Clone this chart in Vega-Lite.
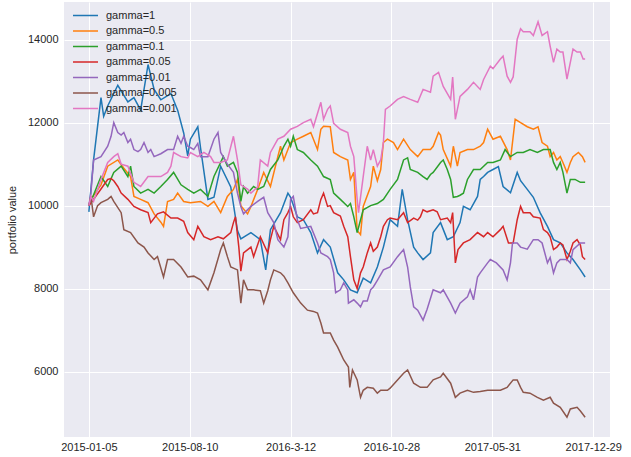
{
"$schema":"https://vega.github.io/schema/vega-lite/v6.json",
"width":546,"height":435,
"autosize":{"type":"none"},
"padding":{"left":64,"top":2,"right":21,"bottom":20},
"background":"white",
"config":{"font":"Liberation Sans","view":{"fill":"#EAEAF2","stroke":null},
"axis":{"domain":false,"ticks":false,"gridColor":"white","gridWidth":1,"labelColor":"#262626","labelFontSize":11,"titleColor":"#262626","titleFontWeight":"normal","titleFontSize":11}},
"data":{"values":[
{"series":"gamma=1","t":0,"value":9850},{"series":"gamma=1","t":7,"value":11100},{"series":"gamma=1","t":18,"value":12600},{"series":"gamma=1","t":22,"value":12150},{"series":"gamma=1","t":28,"value":12400},{"series":"gamma=1","t":43,"value":12900},{"series":"gamma=1","t":58,"value":12500},{"series":"gamma=1","t":67,"value":12600},{"series":"gamma=1","t":77,"value":12300},{"series":"gamma=1","t":88,"value":13400},{"series":"gamma=1","t":97,"value":12800},{"series":"gamma=1","t":107,"value":12550},{"series":"gamma=1","t":122,"value":12700},{"series":"gamma=1","t":132,"value":12300},{"series":"gamma=1","t":141,"value":11750},{"series":"gamma=1","t":147,"value":11200},{"series":"gamma=1","t":151,"value":11600},{"series":"gamma=1","t":162,"value":11900},{"series":"gamma=1","t":166,"value":11400},{"series":"gamma=1","t":177,"value":10150},{"series":"gamma=1","t":186,"value":10200},{"series":"gamma=1","t":196,"value":10950},{"series":"gamma=1","t":211,"value":10450},{"series":"gamma=1","t":221,"value":9400},{"series":"gamma=1","t":226,"value":9200},{"series":"gamma=1","t":241,"value":9350},{"series":"gamma=1","t":255,"value":9180},{"series":"gamma=1","t":263,"value":8450},{"series":"gamma=1","t":270,"value":9420},{"series":"gamma=1","t":285,"value":9830},{"series":"gamma=1","t":296,"value":10300},{"series":"gamma=1","t":300,"value":10200},{"series":"gamma=1","t":310,"value":9730},{"series":"gamma=1","t":319,"value":9660},{"series":"gamma=1","t":330,"value":9350},{"series":"gamma=1","t":340,"value":8860},{"series":"gamma=1","t":349,"value":9180},{"series":"gamma=1","t":359,"value":9000},{"series":"gamma=1","t":370,"value":8380},{"series":"gamma=1","t":379,"value":8210},{"series":"gamma=1","t":389,"value":7970},{"series":"gamma=1","t":399,"value":7900},{"series":"gamma=1","t":408,"value":8250},{"series":"gamma=1","t":419,"value":8140},{"series":"gamma=1","t":429,"value":8520},{"series":"gamma=1","t":438,"value":9000},{"series":"gamma=1","t":448,"value":9660},{"series":"gamma=1","t":459,"value":9500},{"series":"gamma=1","t":466,"value":10390},{"series":"gamma=1","t":474,"value":9660},{"series":"gamma=1","t":483,"value":9000},{"series":"gamma=1","t":489,"value":8860},{"series":"gamma=1","t":497,"value":8700},{"series":"gamma=1","t":508,"value":8860},{"series":"gamma=1","t":512,"value":9350},{"series":"gamma=1","t":523,"value":9590},{"series":"gamma=1","t":533,"value":9180},{"series":"gamma=1","t":542,"value":9250},{"series":"gamma=1","t":552,"value":9590},{"series":"gamma=1","t":557,"value":9980},{"series":"gamma=1","t":567,"value":9900},{"series":"gamma=1","t":578,"value":10220},{"series":"gamma=1","t":582,"value":10630},{"series":"gamma=1","t":587,"value":10700},{"series":"gamma=1","t":593,"value":10800},{"series":"gamma=1","t":601,"value":10870},{"series":"gamma=1","t":609,"value":10940},{"series":"gamma=1","t":616,"value":10460},{"series":"gamma=1","t":627,"value":10310},{"series":"gamma=1","t":637,"value":10800},{"series":"gamma=1","t":642,"value":10600},{"series":"gamma=1","t":652,"value":10390},{"series":"gamma=1","t":661,"value":10200},{"series":"gamma=1","t":671,"value":9830},{"series":"gamma=1","t":682,"value":9500},{"series":"gamma=1","t":691,"value":9180},{"series":"gamma=1","t":701,"value":9100},{"series":"gamma=1","t":711,"value":8860},{"series":"gamma=1","t":720,"value":8700},{"series":"gamma=1","t":731,"value":8450},{"series":"gamma=1","t":738,"value":8280},
{"series":"gamma=0.5","t":0,"value":10000},{"series":"gamma=0.5","t":3,"value":10150},{"series":"gamma=0.5","t":18,"value":10500},{"series":"gamma=0.5","t":28,"value":10950},{"series":"gamma=0.5","t":43,"value":11100},{"series":"gamma=0.5","t":52,"value":10900},{"series":"gamma=0.5","t":62,"value":10700},{"series":"gamma=0.5","t":67,"value":10220},{"series":"gamma=0.5","t":77,"value":10150},{"series":"gamma=0.5","t":88,"value":10070},{"series":"gamma=0.5","t":97,"value":9800},{"series":"gamma=0.5","t":107,"value":9600},{"series":"gamma=0.5","t":111,"value":9500},{"series":"gamma=0.5","t":117,"value":10100},{"series":"gamma=0.5","t":126,"value":10150},{"series":"gamma=0.5","t":132,"value":10300},{"series":"gamma=0.5","t":141,"value":10100},{"series":"gamma=0.5","t":151,"value":10070},{"series":"gamma=0.5","t":166,"value":10100},{"series":"gamma=0.5","t":177,"value":9980},{"series":"gamma=0.5","t":186,"value":10100},{"series":"gamma=0.5","t":196,"value":9830},{"series":"gamma=0.5","t":206,"value":10220},{"series":"gamma=0.5","t":215,"value":10390},{"series":"gamma=0.5","t":221,"value":10630},{"series":"gamma=0.5","t":226,"value":10000},{"series":"gamma=0.5","t":236,"value":9800},{"series":"gamma=0.5","t":241,"value":9980},{"series":"gamma=0.5","t":251,"value":10390},{"series":"gamma=0.5","t":260,"value":10800},{"series":"gamma=0.5","t":270,"value":10460},{"series":"gamma=0.5","t":281,"value":11180},{"series":"gamma=0.5","t":285,"value":11430},{"series":"gamma=0.5","t":290,"value":11100},{"series":"gamma=0.5","t":300,"value":11520},{"series":"gamma=0.5","t":310,"value":11600},{"series":"gamma=0.5","t":319,"value":11670},{"series":"gamma=0.5","t":330,"value":11760},{"series":"gamma=0.5","t":340,"value":11350},{"series":"gamma=0.5","t":345,"value":11840},{"series":"gamma=0.5","t":349,"value":11910},{"series":"gamma=0.5","t":359,"value":11900},{"series":"gamma=0.5","t":364,"value":11280},{"series":"gamma=0.5","t":374,"value":11180},{"series":"gamma=0.5","t":385,"value":11100},{"series":"gamma=0.5","t":389,"value":10630},{"series":"gamma=0.5","t":394,"value":10800},{"series":"gamma=0.5","t":399,"value":9400},{"series":"gamma=0.5","t":404,"value":9300},{"series":"gamma=0.5","t":408,"value":9980},{"series":"gamma=0.5","t":419,"value":10460},{"series":"gamma=0.5","t":423,"value":10950},{"series":"gamma=0.5","t":429,"value":10600},{"series":"gamma=0.5","t":434,"value":10870},{"series":"gamma=0.5","t":438,"value":11520},{"series":"gamma=0.5","t":444,"value":11600},{"series":"gamma=0.5","t":453,"value":11520},{"series":"gamma=0.5","t":459,"value":11350},{"series":"gamma=0.5","t":468,"value":11600},{"series":"gamma=0.5","t":478,"value":11350},{"series":"gamma=0.5","t":489,"value":11180},{"series":"gamma=0.5","t":497,"value":11350},{"series":"gamma=0.5","t":508,"value":11350},{"series":"gamma=0.5","t":512,"value":11430},{"series":"gamma=0.5","t":520,"value":11760},{"series":"gamma=0.5","t":523,"value":11700},{"series":"gamma=0.5","t":527,"value":11350},{"series":"gamma=0.5","t":538,"value":10950},{"series":"gamma=0.5","t":542,"value":11430},{"series":"gamma=0.5","t":548,"value":10950},{"series":"gamma=0.5","t":552,"value":11280},{"series":"gamma=0.5","t":563,"value":11350},{"series":"gamma=0.5","t":572,"value":11350},{"series":"gamma=0.5","t":582,"value":11430},{"series":"gamma=0.5","t":587,"value":11520},{"series":"gamma=0.5","t":593,"value":11840},{"series":"gamma=0.5","t":601,"value":11600},{"series":"gamma=0.5","t":612,"value":11670},{"series":"gamma=0.5","t":622,"value":11350},{"series":"gamma=0.5","t":627,"value":11100},{"series":"gamma=0.5","t":634,"value":12080},{"series":"gamma=0.5","t":642,"value":12000},{"series":"gamma=0.5","t":652,"value":11900},{"series":"gamma=0.5","t":661,"value":11840},{"series":"gamma=0.5","t":668,"value":11900},{"series":"gamma=0.5","t":674,"value":11520},{"series":"gamma=0.5","t":682,"value":11430},{"series":"gamma=0.5","t":686,"value":11180},{"series":"gamma=0.5","t":691,"value":11280},{"series":"gamma=0.5","t":696,"value":11100},{"series":"gamma=0.5","t":701,"value":11180},{"series":"gamma=0.5","t":705,"value":11040},{"series":"gamma=0.5","t":711,"value":10800},{"series":"gamma=0.5","t":716,"value":11040},{"series":"gamma=0.5","t":720,"value":11180},{"series":"gamma=0.5","t":728,"value":11280},{"series":"gamma=0.5","t":734,"value":11180},{"series":"gamma=0.5","t":738,"value":11040},
{"series":"gamma=0.1","t":0,"value":10000},{"series":"gamma=0.1","t":3,"value":10100},{"series":"gamma=0.1","t":18,"value":10700},{"series":"gamma=0.1","t":28,"value":10460},{"series":"gamma=0.1","t":37,"value":10800},{"series":"gamma=0.1","t":48,"value":10950},{"series":"gamma=0.1","t":58,"value":10700},{"series":"gamma=0.1","t":62,"value":10950},{"series":"gamma=0.1","t":67,"value":10460},{"series":"gamma=0.1","t":77,"value":10300},{"series":"gamma=0.1","t":88,"value":10390},{"series":"gamma=0.1","t":97,"value":10300},{"series":"gamma=0.1","t":107,"value":10460},{"series":"gamma=0.1","t":117,"value":10630},{"series":"gamma=0.1","t":126,"value":10800},{"series":"gamma=0.1","t":137,"value":10500},{"series":"gamma=0.1","t":147,"value":10390},{"series":"gamma=0.1","t":156,"value":10300},{"series":"gamma=0.1","t":166,"value":10390},{"series":"gamma=0.1","t":177,"value":10220},{"series":"gamma=0.1","t":186,"value":10700},{"series":"gamma=0.1","t":196,"value":11040},{"series":"gamma=0.1","t":200,"value":11180},{"series":"gamma=0.1","t":206,"value":10950},{"series":"gamma=0.1","t":215,"value":11040},{"series":"gamma=0.1","t":221,"value":10800},{"series":"gamma=0.1","t":226,"value":10100},{"series":"gamma=0.1","t":230,"value":10460},{"series":"gamma=0.1","t":236,"value":10300},{"series":"gamma=0.1","t":245,"value":10460},{"series":"gamma=0.1","t":251,"value":10390},{"series":"gamma=0.1","t":260,"value":10460},{"series":"gamma=0.1","t":270,"value":10870},{"series":"gamma=0.1","t":281,"value":11100},{"series":"gamma=0.1","t":290,"value":11430},{"series":"gamma=0.1","t":296,"value":11600},{"series":"gamma=0.1","t":300,"value":11430},{"series":"gamma=0.1","t":304,"value":11670},{"series":"gamma=0.1","t":310,"value":11350},{"series":"gamma=0.1","t":319,"value":11280},{"series":"gamma=0.1","t":330,"value":11100},{"series":"gamma=0.1","t":340,"value":10950},{"series":"gamma=0.1","t":349,"value":10700},{"series":"gamma=0.1","t":359,"value":10630},{"series":"gamma=0.1","t":364,"value":10300},{"series":"gamma=0.1","t":374,"value":10150},{"series":"gamma=0.1","t":385,"value":9980},{"series":"gamma=0.1","t":389,"value":10050},{"series":"gamma=0.1","t":394,"value":9730},{"series":"gamma=0.1","t":399,"value":9350},{"series":"gamma=0.1","t":408,"value":9900},{"series":"gamma=0.1","t":419,"value":10000},{"series":"gamma=0.1","t":429,"value":10050},{"series":"gamma=0.1","t":438,"value":10150},{"series":"gamma=0.1","t":448,"value":10390},{"series":"gamma=0.1","t":459,"value":10630},{"series":"gamma=0.1","t":468,"value":11100},{"series":"gamma=0.1","t":474,"value":11150},{"series":"gamma=0.1","t":478,"value":10870},{"series":"gamma=0.1","t":489,"value":10800},{"series":"gamma=0.1","t":497,"value":10700},{"series":"gamma=0.1","t":503,"value":10630},{"series":"gamma=0.1","t":508,"value":10750},{"series":"gamma=0.1","t":512,"value":10800},{"series":"gamma=0.1","t":523,"value":11040},{"series":"gamma=0.1","t":527,"value":11100},{"series":"gamma=0.1","t":533,"value":10870},{"series":"gamma=0.1","t":538,"value":10630},{"series":"gamma=0.1","t":542,"value":10200},{"series":"gamma=0.1","t":548,"value":10220},{"series":"gamma=0.1","t":552,"value":10250},{"series":"gamma=0.1","t":557,"value":10300},{"series":"gamma=0.1","t":563,"value":10630},{"series":"gamma=0.1","t":572,"value":10870},{"series":"gamma=0.1","t":582,"value":10870},{"series":"gamma=0.1","t":593,"value":11040},{"series":"gamma=0.1","t":601,"value":11040},{"series":"gamma=0.1","t":612,"value":11100},{"series":"gamma=0.1","t":619,"value":11350},{"series":"gamma=0.1","t":627,"value":11180},{"series":"gamma=0.1","t":637,"value":11280},{"series":"gamma=0.1","t":646,"value":11280},{"series":"gamma=0.1","t":656,"value":11350},{"series":"gamma=0.1","t":667,"value":11280},{"series":"gamma=0.1","t":676,"value":11350},{"series":"gamma=0.1","t":686,"value":11350},{"series":"gamma=0.1","t":691,"value":11040},{"series":"gamma=0.1","t":696,"value":10870},{"series":"gamma=0.1","t":701,"value":11040},{"series":"gamma=0.1","t":705,"value":10800},{"series":"gamma=0.1","t":711,"value":10300},{"series":"gamma=0.1","t":716,"value":10630},{"series":"gamma=0.1","t":723,"value":10630},{"series":"gamma=0.1","t":731,"value":10560},{"series":"gamma=0.1","t":738,"value":10560},
{"series":"gamma=0.05","t":0,"value":10000},{"series":"gamma=0.05","t":7,"value":10150},{"series":"gamma=0.05","t":18,"value":10400},{"series":"gamma=0.05","t":28,"value":10630},{"series":"gamma=0.05","t":33,"value":10650},{"series":"gamma=0.05","t":37,"value":10600},{"series":"gamma=0.05","t":43,"value":10460},{"series":"gamma=0.05","t":48,"value":10300},{"series":"gamma=0.05","t":58,"value":10150},{"series":"gamma=0.05","t":67,"value":9980},{"series":"gamma=0.05","t":77,"value":9900},{"series":"gamma=0.05","t":88,"value":9830},{"series":"gamma=0.05","t":92,"value":9590},{"series":"gamma=0.05","t":102,"value":9800},{"series":"gamma=0.05","t":111,"value":9850},{"series":"gamma=0.05","t":122,"value":9700},{"series":"gamma=0.05","t":132,"value":9700},{"series":"gamma=0.05","t":141,"value":9620},{"series":"gamma=0.05","t":147,"value":9350},{"series":"gamma=0.05","t":156,"value":9180},{"series":"gamma=0.05","t":162,"value":9500},{"series":"gamma=0.05","t":171,"value":9250},{"series":"gamma=0.05","t":181,"value":9180},{"series":"gamma=0.05","t":192,"value":9250},{"series":"gamma=0.05","t":200,"value":9200},{"series":"gamma=0.05","t":211,"value":9350},{"series":"gamma=0.05","t":215,"value":9590},{"series":"gamma=0.05","t":218,"value":9730},{"series":"gamma=0.05","t":223,"value":9000},{"series":"gamma=0.05","t":226,"value":8420},{"series":"gamma=0.05","t":230,"value":8860},{"series":"gamma=0.05","t":241,"value":9000},{"series":"gamma=0.05","t":245,"value":8770},{"series":"gamma=0.05","t":255,"value":9250},{"series":"gamma=0.05","t":266,"value":8860},{"series":"gamma=0.05","t":270,"value":9180},{"series":"gamma=0.05","t":275,"value":9500},{"series":"gamma=0.05","t":285,"value":9180},{"series":"gamma=0.05","t":290,"value":9660},{"series":"gamma=0.05","t":296,"value":9830},{"series":"gamma=0.05","t":300,"value":9980},{"series":"gamma=0.05","t":304,"value":9730},{"series":"gamma=0.05","t":310,"value":9590},{"series":"gamma=0.05","t":319,"value":9660},{"series":"gamma=0.05","t":330,"value":9900},{"series":"gamma=0.05","t":334,"value":9800},{"series":"gamma=0.05","t":340,"value":9830},{"series":"gamma=0.05","t":345,"value":10150},{"series":"gamma=0.05","t":349,"value":10300},{"series":"gamma=0.05","t":355,"value":9980},{"series":"gamma=0.05","t":359,"value":10000},{"series":"gamma=0.05","t":364,"value":9830},{"series":"gamma=0.05","t":374,"value":9750},{"series":"gamma=0.05","t":379,"value":9500},{"series":"gamma=0.05","t":385,"value":9250},{"series":"gamma=0.05","t":389,"value":8770},{"series":"gamma=0.05","t":394,"value":8210},{"series":"gamma=0.05","t":399,"value":8000},{"series":"gamma=0.05","t":404,"value":8380},{"series":"gamma=0.05","t":408,"value":8520},{"series":"gamma=0.05","t":414,"value":8860},{"series":"gamma=0.05","t":419,"value":9100},{"series":"gamma=0.05","t":423,"value":8900},{"series":"gamma=0.05","t":429,"value":9000},{"series":"gamma=0.05","t":434,"value":9250},{"series":"gamma=0.05","t":438,"value":9500},{"series":"gamma=0.05","t":444,"value":9660},{"series":"gamma=0.05","t":448,"value":9700},{"series":"gamma=0.05","t":459,"value":9660},{"series":"gamma=0.05","t":468,"value":9830},{"series":"gamma=0.05","t":474,"value":9590},{"series":"gamma=0.05","t":483,"value":9700},{"series":"gamma=0.05","t":489,"value":9650},{"series":"gamma=0.05","t":493,"value":9730},{"series":"gamma=0.05","t":497,"value":9900},{"series":"gamma=0.05","t":503,"value":9850},{"series":"gamma=0.05","t":512,"value":9900},{"series":"gamma=0.05","t":518,"value":9850},{"series":"gamma=0.05","t":523,"value":9660},{"series":"gamma=0.05","t":533,"value":9700},{"series":"gamma=0.05","t":538,"value":9590},{"series":"gamma=0.05","t":541,"value":9830},{"series":"gamma=0.05","t":545,"value":8620},{"series":"gamma=0.05","t":549,"value":8940},{"series":"gamma=0.05","t":557,"value":9100},{"series":"gamma=0.05","t":567,"value":9180},{"series":"gamma=0.05","t":578,"value":9350},{"series":"gamma=0.05","t":587,"value":9250},{"series":"gamma=0.05","t":593,"value":9350},{"series":"gamma=0.05","t":601,"value":9250},{"series":"gamma=0.05","t":612,"value":9420},{"series":"gamma=0.05","t":616,"value":9500},{"series":"gamma=0.05","t":624,"value":9100},{"series":"gamma=0.05","t":631,"value":9100},{"series":"gamma=0.05","t":637,"value":9660},{"series":"gamma=0.05","t":642,"value":9980},{"series":"gamma=0.05","t":646,"value":9830},{"series":"gamma=0.05","t":656,"value":9830},{"series":"gamma=0.05","t":661,"value":9730},{"series":"gamma=0.05","t":671,"value":9700},{"series":"gamma=0.05","t":676,"value":9420},{"series":"gamma=0.05","t":682,"value":9350},{"series":"gamma=0.05","t":686,"value":9250},{"series":"gamma=0.05","t":691,"value":8940},{"series":"gamma=0.05","t":696,"value":9000},{"series":"gamma=0.05","t":701,"value":9100},{"series":"gamma=0.05","t":705,"value":9050},{"series":"gamma=0.05","t":711,"value":8700},{"series":"gamma=0.05","t":716,"value":8900},{"series":"gamma=0.05","t":720,"value":9100},{"series":"gamma=0.05","t":726,"value":9180},{"series":"gamma=0.05","t":731,"value":9050},{"series":"gamma=0.05","t":734,"value":8770},{"series":"gamma=0.05","t":738,"value":8700},
{"series":"gamma=0.01","t":0,"value":10000},{"series":"gamma=0.01","t":3,"value":10300},{"series":"gamma=0.01","t":7,"value":11100},{"series":"gamma=0.01","t":18,"value":11180},{"series":"gamma=0.01","t":28,"value":11430},{"series":"gamma=0.01","t":33,"value":11670},{"series":"gamma=0.01","t":37,"value":12000},{"series":"gamma=0.01","t":43,"value":11760},{"series":"gamma=0.01","t":48,"value":11700},{"series":"gamma=0.01","t":52,"value":11760},{"series":"gamma=0.01","t":58,"value":11520},{"series":"gamma=0.01","t":62,"value":11600},{"series":"gamma=0.01","t":67,"value":11350},{"series":"gamma=0.01","t":73,"value":11300},{"series":"gamma=0.01","t":77,"value":11350},{"series":"gamma=0.01","t":82,"value":11520},{"series":"gamma=0.01","t":88,"value":11280},{"series":"gamma=0.01","t":92,"value":11350},{"series":"gamma=0.01","t":97,"value":11180},{"series":"gamma=0.01","t":107,"value":11250},{"series":"gamma=0.01","t":117,"value":11350},{"series":"gamma=0.01","t":126,"value":11350},{"series":"gamma=0.01","t":132,"value":11670},{"series":"gamma=0.01","t":137,"value":11500},{"series":"gamma=0.01","t":141,"value":11670},{"series":"gamma=0.01","t":147,"value":11430},{"series":"gamma=0.01","t":151,"value":11400},{"series":"gamma=0.01","t":156,"value":11350},{"series":"gamma=0.01","t":162,"value":11500},{"series":"gamma=0.01","t":166,"value":11180},{"series":"gamma=0.01","t":177,"value":11180},{"series":"gamma=0.01","t":186,"value":11600},{"series":"gamma=0.01","t":192,"value":11760},{"series":"gamma=0.01","t":196,"value":11280},{"series":"gamma=0.01","t":206,"value":11000},{"series":"gamma=0.01","t":215,"value":10800},{"series":"gamma=0.01","t":221,"value":10300},{"series":"gamma=0.01","t":226,"value":9980},{"series":"gamma=0.01","t":230,"value":9800},{"series":"gamma=0.01","t":241,"value":9980},{"series":"gamma=0.01","t":251,"value":10100},{"series":"gamma=0.01","t":260,"value":10200},{"series":"gamma=0.01","t":266,"value":9830},{"series":"gamma=0.01","t":275,"value":9590},{"series":"gamma=0.01","t":281,"value":9180},{"series":"gamma=0.01","t":290,"value":9000},{"series":"gamma=0.01","t":296,"value":9250},{"series":"gamma=0.01","t":300,"value":10150},{"series":"gamma=0.01","t":304,"value":10220},{"series":"gamma=0.01","t":310,"value":9660},{"series":"gamma=0.01","t":315,"value":9450},{"series":"gamma=0.01","t":330,"value":9500},{"series":"gamma=0.01","t":340,"value":9100},{"series":"gamma=0.01","t":345,"value":8860},{"series":"gamma=0.01","t":355,"value":8770},{"series":"gamma=0.01","t":359,"value":8700},{"series":"gamma=0.01","t":364,"value":8380},{"series":"gamma=0.01","t":367,"value":7900},{"series":"gamma=0.01","t":374,"value":7970},{"series":"gamma=0.01","t":379,"value":8140},{"series":"gamma=0.01","t":385,"value":7970},{"series":"gamma=0.01","t":386,"value":7650},{"series":"gamma=0.01","t":394,"value":7730},{"series":"gamma=0.01","t":399,"value":7650},{"series":"gamma=0.01","t":404,"value":7560},{"series":"gamma=0.01","t":408,"value":7700},{"series":"gamma=0.01","t":414,"value":7700},{"series":"gamma=0.01","t":419,"value":7970},{"series":"gamma=0.01","t":423,"value":8040},{"series":"gamma=0.01","t":429,"value":8200},{"series":"gamma=0.01","t":438,"value":8450},{"series":"gamma=0.01","t":448,"value":8520},{"series":"gamma=0.01","t":459,"value":8770},{"series":"gamma=0.01","t":468,"value":8940},{"series":"gamma=0.01","t":474,"value":8520},{"series":"gamma=0.01","t":478,"value":8040},{"series":"gamma=0.01","t":483,"value":7560},{"series":"gamma=0.01","t":489,"value":7480},{"series":"gamma=0.01","t":497,"value":7240},{"series":"gamma=0.01","t":503,"value":7500},{"series":"gamma=0.01","t":512,"value":7970},{"series":"gamma=0.01","t":523,"value":7900},{"series":"gamma=0.01","t":527,"value":7970},{"series":"gamma=0.01","t":538,"value":7650},{"series":"gamma=0.01","t":545,"value":7410},{"series":"gamma=0.01","t":552,"value":7650},{"series":"gamma=0.01","t":563,"value":7800},{"series":"gamma=0.01","t":567,"value":7970},{"series":"gamma=0.01","t":572,"value":7730},{"series":"gamma=0.01","t":578,"value":8280},{"series":"gamma=0.01","t":582,"value":8380},{"series":"gamma=0.01","t":593,"value":8620},{"series":"gamma=0.01","t":597,"value":8700},{"series":"gamma=0.01","t":606,"value":8620},{"series":"gamma=0.01","t":616,"value":8450},{"series":"gamma=0.01","t":622,"value":8210},{"series":"gamma=0.01","t":627,"value":8620},{"series":"gamma=0.01","t":630,"value":9100},{"series":"gamma=0.01","t":637,"value":9100},{"series":"gamma=0.01","t":642,"value":9000},{"series":"gamma=0.01","t":652,"value":8950},{"series":"gamma=0.01","t":661,"value":9180},{"series":"gamma=0.01","t":668,"value":9180},{"series":"gamma=0.01","t":674,"value":9100},{"series":"gamma=0.01","t":682,"value":8620},{"series":"gamma=0.01","t":686,"value":8750},{"series":"gamma=0.01","t":691,"value":8380},{"series":"gamma=0.01","t":696,"value":8620},{"series":"gamma=0.01","t":701,"value":8700},{"series":"gamma=0.01","t":711,"value":8700},{"series":"gamma=0.01","t":716,"value":8620},{"series":"gamma=0.01","t":720,"value":8940},{"series":"gamma=0.01","t":731,"value":9100},{"series":"gamma=0.01","t":738,"value":9100},
{"series":"gamma=0.005","t":0,"value":10000},{"series":"gamma=0.005","t":3,"value":10220},{"series":"gamma=0.005","t":7,"value":9730},{"series":"gamma=0.005","t":13,"value":10000},{"series":"gamma=0.005","t":18,"value":10070},{"series":"gamma=0.005","t":28,"value":10150},{"series":"gamma=0.005","t":33,"value":10220},{"series":"gamma=0.005","t":37,"value":10100},{"series":"gamma=0.005","t":48,"value":9830},{"series":"gamma=0.005","t":52,"value":9420},{"series":"gamma=0.005","t":62,"value":9350},{"series":"gamma=0.005","t":73,"value":9100},{"series":"gamma=0.005","t":82,"value":9000},{"series":"gamma=0.005","t":88,"value":8860},{"series":"gamma=0.005","t":97,"value":8700},{"series":"gamma=0.005","t":102,"value":8770},{"series":"gamma=0.005","t":111,"value":8280},{"series":"gamma=0.005","t":117,"value":8700},{"series":"gamma=0.005","t":126,"value":8700},{"series":"gamma=0.005","t":137,"value":8520},{"series":"gamma=0.005","t":147,"value":8280},{"series":"gamma=0.005","t":156,"value":8300},{"series":"gamma=0.005","t":166,"value":8210},{"series":"gamma=0.005","t":177,"value":7970},{"series":"gamma=0.005","t":186,"value":8380},{"series":"gamma=0.005","t":196,"value":8940},{"series":"gamma=0.005","t":200,"value":9100},{"series":"gamma=0.005","t":206,"value":8770},{"series":"gamma=0.005","t":211,"value":8520},{"series":"gamma=0.005","t":221,"value":8450},{"series":"gamma=0.005","t":226,"value":7650},{"series":"gamma=0.005","t":230,"value":8210},{"series":"gamma=0.005","t":236,"value":7970},{"series":"gamma=0.005","t":245,"value":7970},{"series":"gamma=0.005","t":255,"value":7950},{"series":"gamma=0.005","t":260,"value":7650},{"series":"gamma=0.005","t":266,"value":7950},{"series":"gamma=0.005","t":270,"value":8210},{"series":"gamma=0.005","t":275,"value":8450},{"series":"gamma=0.005","t":285,"value":8380},{"series":"gamma=0.005","t":290,"value":8300},{"series":"gamma=0.005","t":296,"value":8140},{"series":"gamma=0.005","t":304,"value":7900},{"series":"gamma=0.005","t":315,"value":7650},{"series":"gamma=0.005","t":325,"value":7480},{"series":"gamma=0.005","t":334,"value":7450},{"series":"gamma=0.005","t":340,"value":7410},{"series":"gamma=0.005","t":345,"value":7170},{"series":"gamma=0.005","t":349,"value":6930},{"series":"gamma=0.005","t":359,"value":6930},{"series":"gamma=0.005","t":364,"value":6760},{"series":"gamma=0.005","t":370,"value":6590},{"series":"gamma=0.005","t":374,"value":6450},{"series":"gamma=0.005","t":379,"value":6280},{"series":"gamma=0.005","t":386,"value":6110},{"series":"gamma=0.005","t":388,"value":5620},{"series":"gamma=0.005","t":392,"value":6040},{"series":"gamma=0.005","t":399,"value":5800},{"series":"gamma=0.005","t":404,"value":5380},{"series":"gamma=0.005","t":408,"value":5550},{"series":"gamma=0.005","t":414,"value":5620},{"series":"gamma=0.005","t":423,"value":5600},{"series":"gamma=0.005","t":429,"value":5480},{"series":"gamma=0.005","t":434,"value":5550},{"series":"gamma=0.005","t":444,"value":5550},{"series":"gamma=0.005","t":448,"value":5600},{"series":"gamma=0.005","t":459,"value":5800},{"series":"gamma=0.005","t":468,"value":5960},{"series":"gamma=0.005","t":474,"value":6040},{"series":"gamma=0.005","t":483,"value":5720},{"series":"gamma=0.005","t":493,"value":5620},{"series":"gamma=0.005","t":503,"value":5620},{"series":"gamma=0.005","t":512,"value":5800},{"series":"gamma=0.005","t":523,"value":5870},{"series":"gamma=0.005","t":527,"value":5960},{"series":"gamma=0.005","t":538,"value":5720},{"series":"gamma=0.005","t":545,"value":5380},{"series":"gamma=0.005","t":552,"value":5480},{"series":"gamma=0.005","t":563,"value":5550},{"series":"gamma=0.005","t":572,"value":5500},{"series":"gamma=0.005","t":582,"value":5520},{"series":"gamma=0.005","t":593,"value":5550},{"series":"gamma=0.005","t":601,"value":5550},{"series":"gamma=0.005","t":612,"value":5550},{"series":"gamma=0.005","t":622,"value":5620},{"series":"gamma=0.005","t":631,"value":5800},{"series":"gamma=0.005","t":637,"value":5800},{"series":"gamma=0.005","t":642,"value":5620},{"series":"gamma=0.005","t":646,"value":5500},{"series":"gamma=0.005","t":656,"value":5480},{"series":"gamma=0.005","t":667,"value":5380},{"series":"gamma=0.005","t":676,"value":5310},{"series":"gamma=0.005","t":686,"value":5380},{"series":"gamma=0.005","t":691,"value":5240},{"series":"gamma=0.005","t":701,"value":5140},{"series":"gamma=0.005","t":711,"value":4900},{"series":"gamma=0.005","t":716,"value":5100},{"series":"gamma=0.005","t":726,"value":5140},{"series":"gamma=0.005","t":731,"value":5050},{"series":"gamma=0.005","t":738,"value":4900},
{"series":"gamma=0.001","t":0,"value":10000},{"series":"gamma=0.001","t":3,"value":10220},{"series":"gamma=0.001","t":7,"value":10100},{"series":"gamma=0.001","t":18,"value":10630},{"series":"gamma=0.001","t":28,"value":11040},{"series":"gamma=0.001","t":37,"value":11180},{"series":"gamma=0.001","t":43,"value":11250},{"series":"gamma=0.001","t":48,"value":11000},{"series":"gamma=0.001","t":58,"value":10950},{"series":"gamma=0.001","t":67,"value":10560},{"series":"gamma=0.001","t":77,"value":10460},{"series":"gamma=0.001","t":88,"value":10700},{"series":"gamma=0.001","t":97,"value":10700},{"series":"gamma=0.001","t":107,"value":10700},{"series":"gamma=0.001","t":117,"value":10800},{"series":"gamma=0.001","t":122,"value":10950},{"series":"gamma=0.001","t":126,"value":11280},{"series":"gamma=0.001","t":137,"value":11180},{"series":"gamma=0.001","t":147,"value":11150},{"series":"gamma=0.001","t":151,"value":11280},{"series":"gamma=0.001","t":162,"value":11180},{"series":"gamma=0.001","t":171,"value":11280},{"series":"gamma=0.001","t":181,"value":11180},{"series":"gamma=0.001","t":186,"value":11040},{"series":"gamma=0.001","t":196,"value":11040},{"series":"gamma=0.001","t":206,"value":11100},{"series":"gamma=0.001","t":215,"value":11670},{"series":"gamma=0.001","t":221,"value":11100},{"series":"gamma=0.001","t":226,"value":10500},{"series":"gamma=0.001","t":236,"value":10400},{"series":"gamma=0.001","t":241,"value":10300},{"series":"gamma=0.001","t":251,"value":10450},{"series":"gamma=0.001","t":255,"value":11100},{"series":"gamma=0.001","t":266,"value":10950},{"series":"gamma=0.001","t":270,"value":11280},{"series":"gamma=0.001","t":281,"value":11600},{"series":"gamma=0.001","t":290,"value":11670},{"series":"gamma=0.001","t":300,"value":11840},{"series":"gamma=0.001","t":310,"value":11910},{"series":"gamma=0.001","t":319,"value":12000},{"series":"gamma=0.001","t":330,"value":12080},{"series":"gamma=0.001","t":334,"value":11900},{"series":"gamma=0.001","t":345,"value":12490},{"series":"gamma=0.001","t":349,"value":12080},{"series":"gamma=0.001","t":355,"value":12320},{"series":"gamma=0.001","t":359,"value":12400},{"series":"gamma=0.001","t":364,"value":11980},{"series":"gamma=0.001","t":374,"value":11840},{"series":"gamma=0.001","t":385,"value":11760},{"series":"gamma=0.001","t":389,"value":11430},{"series":"gamma=0.001","t":394,"value":11180},{"series":"gamma=0.001","t":399,"value":10150},{"series":"gamma=0.001","t":401,"value":9830},{"series":"gamma=0.001","t":408,"value":10700},{"series":"gamma=0.001","t":414,"value":11430},{"series":"gamma=0.001","t":419,"value":11100},{"series":"gamma=0.001","t":423,"value":11350},{"series":"gamma=0.001","t":429,"value":10950},{"series":"gamma=0.001","t":434,"value":11100},{"series":"gamma=0.001","t":438,"value":11520},{"series":"gamma=0.001","t":441,"value":12320},{"series":"gamma=0.001","t":448,"value":12400},{"series":"gamma=0.001","t":459,"value":12560},{"series":"gamma=0.001","t":468,"value":12630},{"series":"gamma=0.001","t":478,"value":12560},{"series":"gamma=0.001","t":489,"value":12490},{"series":"gamma=0.001","t":497,"value":12800},{"series":"gamma=0.001","t":508,"value":12730},{"series":"gamma=0.001","t":512,"value":13120},{"series":"gamma=0.001","t":520,"value":13210},{"series":"gamma=0.001","t":527,"value":12870},{"series":"gamma=0.001","t":538,"value":12560},{"series":"gamma=0.001","t":541,"value":13100},{"series":"gamma=0.001","t":545,"value":12080},{"series":"gamma=0.001","t":552,"value":12630},{"series":"gamma=0.001","t":563,"value":12800},{"series":"gamma=0.001","t":572,"value":12970},{"series":"gamma=0.001","t":582,"value":12800},{"series":"gamma=0.001","t":587,"value":13040},{"series":"gamma=0.001","t":597,"value":13360},{"series":"gamma=0.001","t":601,"value":13300},{"series":"gamma=0.001","t":612,"value":13530},{"series":"gamma=0.001","t":616,"value":13600},{"series":"gamma=0.001","t":622,"value":13120},{"series":"gamma=0.001","t":627,"value":12970},{"series":"gamma=0.001","t":631,"value":13100},{"series":"gamma=0.001","t":637,"value":14010},{"series":"gamma=0.001","t":642,"value":14260},{"series":"gamma=0.001","t":646,"value":14190},{"series":"gamma=0.001","t":656,"value":14190},{"series":"gamma=0.001","t":661,"value":14100},{"series":"gamma=0.001","t":668,"value":14430},{"series":"gamma=0.001","t":674,"value":14100},{"series":"gamma=0.001","t":682,"value":14190},{"series":"gamma=0.001","t":686,"value":13840},{"series":"gamma=0.001","t":691,"value":13450},{"series":"gamma=0.001","t":696,"value":13770},{"series":"gamma=0.001","t":701,"value":13700},{"series":"gamma=0.001","t":705,"value":13700},{"series":"gamma=0.001","t":711,"value":13050},{"series":"gamma=0.001","t":716,"value":13450},{"series":"gamma=0.001","t":720,"value":13770},{"series":"gamma=0.001","t":726,"value":13700},{"series":"gamma=0.001","t":731,"value":13700},{"series":"gamma=0.001","t":735,"value":13530},{"series":"gamma=0.001","t":738,"value":13530}
]},
"mark":{"type":"line","strokeWidth":1.5,"clip":true},
"encoding":{
"x":{"field":"t","type":"quantitative","scale":{"domain":[-37,775],"nice":false,"zero":false},
"axis":{"title":null,"values":[0,150,300,450,600,750],"labelPadding":4,"labelExpr":"['2015-01-05','2015-08-10','2016-3-12','2016-10-28','2017-05-31','2017-12-29'][round(datum.value/150)]"}},
"y":{"field":"value","type":"quantitative","scale":{"domain":[4424,14906],"nice":false,"zero":false},
"axis":{"title":"portfolio value","values":[6000,8000,10000,12000,14000],"format":"d","labelPadding":6,"titlePadding":10}},
"color":{"field":"series","type":"nominal",
"scale":{"domain":["gamma=1","gamma=0.5","gamma=0.1","gamma=0.05","gamma=0.01","gamma=0.005","gamma=0.001"],
"range":["#1f77b4","#ff7f0e","#2ca02c","#d62728","#9467bd","#8c564b","#e377c2"]},
"legend":{"title":null,"orient":"none","legendX":8,"legendY":6,"symbolType":"stroke","symbolSize":625,"symbolStrokeWidth":1.5,"labelFontSize":11,"labelColor":"#262626","clipHeight":15,"rowPadding":0.5,"labelOffset":7}}
}
}
